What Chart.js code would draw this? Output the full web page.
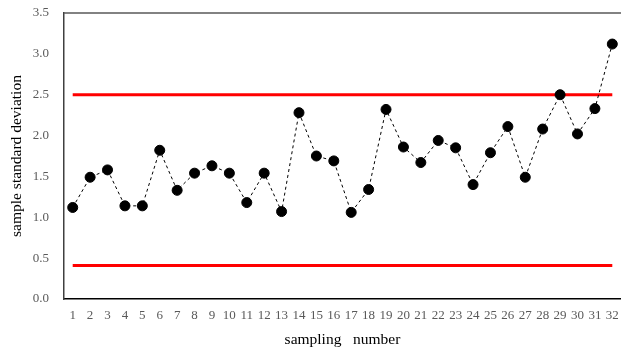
<!DOCTYPE html>
<html>
<head>
<meta charset="utf-8">
<script src="https://cdn.jsdelivr.net/npm/chart.js@4/dist/chart.umd.min.js"></script>
<style>
  html, body { margin: 0; padding: 0; background: #fff; overflow: hidden; }
  #wrap { width: 627px; height: 353px; }
</style>
</head>
<body>
<div id="wrap"><canvas id="myChart"></canvas></div>
<script>
const labels = Array.from({length: 32}, (_, i) => String(i + 1));
const stdDev = [1.12, 1.49, 1.58, 1.14, 1.14, 1.82, 1.33, 1.54, 1.63, 1.54,
                1.18, 1.54, 1.07, 2.28, 1.75, 1.69, 1.06, 1.34, 2.32, 1.86,
                1.67, 1.94, 1.85, 1.40, 1.79, 2.11, 1.49, 2.08, 2.50, 2.02,
                2.33, 3.12];
const upperLimit = 2.5;
const lowerLimit = 0.41;
const yTicks = [0, 0.5, 1, 1.5, 2, 2.5, 3, 3.5];

const ctx = document.querySelector("#myChart");

// top frame line of the plot box
const frame = {
  id: 'frame',
  afterDraw(chart) {
    const a = chart.chartArea, c = chart.ctx;
    c.save();
    c.strokeStyle = '#595959';
    c.lineWidth = 1.5;
    c.beginPath();
    c.moveTo(a.left, a.top);
    c.lineTo(a.right, a.top);
    c.stroke();
    c.restore();
  }
};

const serif = "'Liberation Serif', 'DejaVu Serif', serif";

const config = {
  type: 'line',
  data: {
    labels: labels,
    datasets: [{
      data: stdDev,
      borderColor: '#000',
      borderWidth: 1,
      borderDash: [3, 3],
      pointRadius: 5,
      pointBackgroundColor: '#000',
      pointBorderColor: '#000',
      fill: false,
      tension: 0,
    }, {
      data: labels.map(() => upperLimit),
      borderColor: '#ff0000',
      borderWidth: 3,
      pointRadius: 0,
      fill: false,
    }, {
      data: labels.map(() => lowerLimit),
      borderColor: '#ff0000',
      borderWidth: 3,
      pointRadius: 0,
      fill: false,
    }]
  },
  options: {
    responsive: true,
    maintainAspectRatio: false,
    animation: false,
    layout: { padding: { top: 13, right: 0, left: 4, bottom: 0 } },
    plugins: { legend: { display: false }, tooltip: { enabled: false } },
    scales: {
      x: {
        offset: true,
        grid: { display: false, drawTicks: false },
        border: { display: true, color: '#000', width: 1.5 },
        ticks: { color: '#595959', font: { family: serif, size: 13 }, padding: 9, maxRotation: 0, autoSkip: false },
        title: { display: true, text: 'sampling   number', color: '#000', font: { family: serif, size: 15.5 }, padding: { top: 3 } },
        afterFit(s) { s.height = 54; s.paddingRight = 0; s.paddingLeft = 0; }
      },
      y: {
        min: 0, max: 3.5,
        afterBuildTicks(s) { s.ticks = yTicks.map(v => ({ value: v })); },
        grid: { display: false, drawTicks: false },
        border: { display: true, color: '#404040', width: 1.5 },
        ticks: { color: '#595959', font: { family: serif, size: 13 }, padding: 15, callback: v => Number(v).toFixed(1) },
        title: { display: true, text: 'sample standard deviation', color: '#000', font: { family: serif, size: 15.5 }, padding: { bottom: 2 } },
        afterFit(s) { s.width = 60; s.paddingTop = 0; s.paddingBottom = 0; }
      }
    }
  },
  plugins: [frame]
};

new Chart(ctx, config);
</script>
</body>
</html>
